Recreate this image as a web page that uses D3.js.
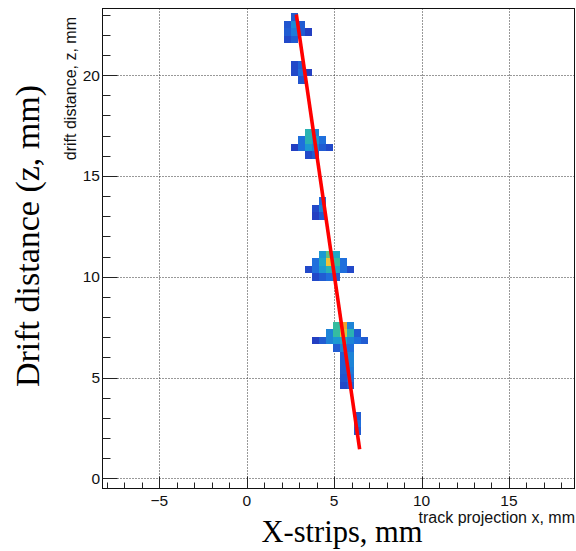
<!DOCTYPE html>
<html>
<head>
<meta charset="utf-8">
<script src="https://cdn.jsdelivr.net/npm/d3@7"></script>
<style>
  html, body { margin: 0; padding: 0; background: #fff; }
  svg { display: block; }
</style>
</head>
<body>
<div id="chart"></div>
<script>
// Drift-distance vs strip-position map of one track, with the fitted line.

const W = 576, H = 551;

// Axis ranges (mm)
const xDomain = [-8.25, 18.75];
const zDomain = [-0.5, 23.3];

// Tick values
const xMajorTicks = [-5, 0, 5, 10, 15];
const zMajorTicks = [0, 5, 10, 15, 20];
const xMinorTicks = d3.range(-8, 19, 1);
const zMinorTicks = d3.range(0, 24, 1);

// Histogram binning (mm)
const binW = 0.4;     // strip pitch
const binH = 0.37;    // drift-time bin in mm
const binX0 = 0.16;   // left edge of strip index 0

// Charge cells, one entry per bin row: [top of row z, first strip index, values...]
const cluster1 = [
  [23.06, 6, [0.2]],
  [22.69, 5, [0.18, 0.32, 0.2]],
  [22.32, 5, [0.2, 0.28, 0.2, 0.12]],
  [21.95, 5, [0.15, 0.2]]
];
const cluster2 = [
  [20.68, 6, [0.15, 0.22]],
  [20.31, 6, [0.15, 0.25, 0.12]],
  [19.94, 7, [0.18]]
];
const cluster3 = [
  [17.33, 8, [0.45, 0.3]],
  [16.96, 7, [0.25, 0.45, 0.35, 0.25]],
  [16.59, 6, [0.12, 0.25, 0.35, 0.3, 0.2, 0.15]],
  [16.22, 8, [0.15, 0.2]]
];
const cluster4 = [
  [13.94, 10, [0.25]],
  [13.57, 9, [0.15, 0.3]],
  [13.20, 9, [0.12, 0.2]]
];
const cluster5 = [
  [11.28, 10, [0.35, 0.55, 0.4]],
  [10.91, 9, [0.25, 0.4, 0.75, 0.5, 0.25]],
  [10.54, 8, [0.15, 0.25, 0.35, 0.45, 0.4, 0.25, 0.15]],
  [10.17, 9, [0.15, 0.2, 0.25, 0.2]]
];
const cluster6 = [
  [7.76, 12, [0.5, 0.82, 0.3]],
  [7.39, 11, [0.3, 0.5, 0.7, 0.45, 0.2]],
  [7.02, 9, [0.12, 0.2, 0.3, 0.35, 0.4, 0.3, 0.25, 0.2]],
  [6.65, 12, [0.2, 0.3, 0.25]],
  [6.28, 13, [0.2, 0.3]],
  [5.91, 13, [0.2, 0.3]],
  [5.54, 13, [0.2, 0.28]],
  [5.17, 13, [0.18, 0.25]],
  [4.80, 13, [0.15, 0.2]]
];
const cluster7 = [
  [3.27, 15, [0.2]],
  [2.90, 15, [0.25]],
  [2.53, 15, [0.2]]
];
const clusters = [cluster1, cluster2, cluster3, cluster4, cluster5, cluster6, cluster7];

// Fitted track (x, z) end points
const fitX = [2.84, 6.46];
const fitZ = [23.0, 1.45];

// Colour palette for the cell content
const paletteColors = ["#1b2196", "#2340c4", "#1f6fdc", "#1aa3d0", "#35bca0",
                       "#a5cc4a", "#f3c234", "#f28a24", "#d7301f"];

// Layout
const frame = { left: 102.5, right: 574.5, top: 8.5, bottom: 488.5 };

const x = d3.scaleLinear().domain(xDomain).range([frame.left, frame.right]);
const y = d3.scaleLinear().domain(zDomain).range([frame.bottom, frame.top]);
const color = d3.scaleLinear()
  .domain(paletteColors.map((_, i) => i / (paletteColors.length - 1)))
  .range(paletteColors)
  .interpolate(d3.interpolateRgb);

// Flatten rows into cells
const cells = [];
clusters.forEach(rows => rows.forEach(([zTop, col0, vals]) => {
  vals.forEach((v, k) => {
    const x0 = binX0 + (col0 + k) * binW;
    cells.push({ x0, x1: x0 + binW, z1: zTop, z0: zTop - binH, v });
  });
}));

const sans = "'Liberation Sans', Arial, Helvetica, sans-serif";
const serif = "'Liberation Serif', 'Times New Roman', serif";

const svg = d3.select("#chart").append("svg")
  .attr("width", W).attr("height", H)
  .style("font-family", sans);

// Grid
const grid = svg.append("g").attr("stroke", "#333").attr("stroke-width", 1)
  .attr("stroke-dasharray", "1,2");
grid.selectAll("line.gx").data(xMajorTicks).join("line")
  .attr("x1", d => Math.round(x(d)) + 0.5).attr("x2", d => Math.round(x(d)) + 0.5)
  .attr("y1", frame.top).attr("y2", frame.bottom);
grid.selectAll("line.gz").data(zMajorTicks).join("line")
  .attr("x1", frame.left).attr("x2", frame.right)
  .attr("y1", d => Math.round(y(d)) + 0.5).attr("y2", d => Math.round(y(d)) + 0.5);

// Cells
svg.append("g").attr("shape-rendering", "crispEdges")
  .selectAll("rect").data(cells).join("rect")
  .attr("x", d => Math.round(x(d.x0)))
  .attr("y", d => Math.round(y(d.z1)))
  .attr("width", d => Math.round(x(d.x1)) - Math.round(x(d.x0)))
  .attr("height", d => Math.round(y(d.z0)) - Math.round(y(d.z1)))
  .attr("fill", d => color(d.v));

// Fitted track
svg.append("line")
  .attr("x1", x(fitX[0])).attr("y1", y(fitZ[0]))
  .attr("x2", x(fitX[1])).attr("y2", y(fitZ[1]))
  .attr("stroke", "#ff0000").attr("stroke-width", 3.6).attr("stroke-linecap", "butt");

// Frame
svg.append("rect")
  .attr("x", frame.left).attr("y", frame.top)
  .attr("width", frame.right - frame.left).attr("height", frame.bottom - frame.top)
  .attr("fill", "none").attr("stroke", "#111").attr("stroke-width", 1);

// Ticks (drawn inside the frame)
const ticks = svg.append("g").attr("stroke", "#222").attr("stroke-width", 1);
ticks.selectAll("line.xt").data(xMinorTicks).join("line")
  .attr("x1", d => Math.round(x(d)) + 0.5).attr("x2", d => Math.round(x(d)) + 0.5)
  .attr("y1", frame.bottom)
  .attr("y2", d => frame.bottom - (xMajorTicks.includes(d) ? 12 : 6));
ticks.selectAll("line.zt").data(zMinorTicks).join("line")
  .attr("y1", d => Math.round(y(d)) + 0.5).attr("y2", d => Math.round(y(d)) + 0.5)
  .attr("x1", frame.left)
  .attr("x2", d => frame.left + (zMajorTicks.includes(d) ? 15 : 8));

// Tick labels
svg.append("g").selectAll("text").data(xMajorTicks).join("text")
  .attr("x", d => x(d)).attr("y", 506)
  .attr("text-anchor", "middle").attr("font-size", 15.5).attr("fill", "#111")
  .text(d => d < 0 ? "\u2212" + Math.abs(d) : d);
svg.append("g").selectAll("text").data(zMajorTicks).join("text")
  .attr("x", 100).attr("y", d => y(d) + 5.5)
  .attr("text-anchor", "end").attr("font-size", 15.5).attr("fill", "#111")
  .text(d => d);

// Axis titles
svg.append("text")
  .attr("x", 575).attr("y", 523).attr("text-anchor", "end")
  .attr("font-size", 16).attr("fill", "#111")
  .text("track projection x, mm");
svg.append("text")
  .attr("transform", "translate(76,17) rotate(-90)").attr("text-anchor", "end")
  .attr("font-size", 16).attr("fill", "#111")
  .text("drift distance, z, mm");

svg.append("text")
  .attr("x", 342).attr("y", 542).attr("text-anchor", "middle")
  .attr("font-family", serif)
  .attr("font-size", 30.5).attr("fill", "#000")
  .text("X-strips, mm");
svg.append("text")
  .attr("transform", "translate(39,236) rotate(-90)").attr("text-anchor", "middle")
  .attr("font-family", serif)
  .attr("font-size", 34).attr("fill", "#000")
  .text("Drift distance (z, mm)");
</script>
</body>
</html>
